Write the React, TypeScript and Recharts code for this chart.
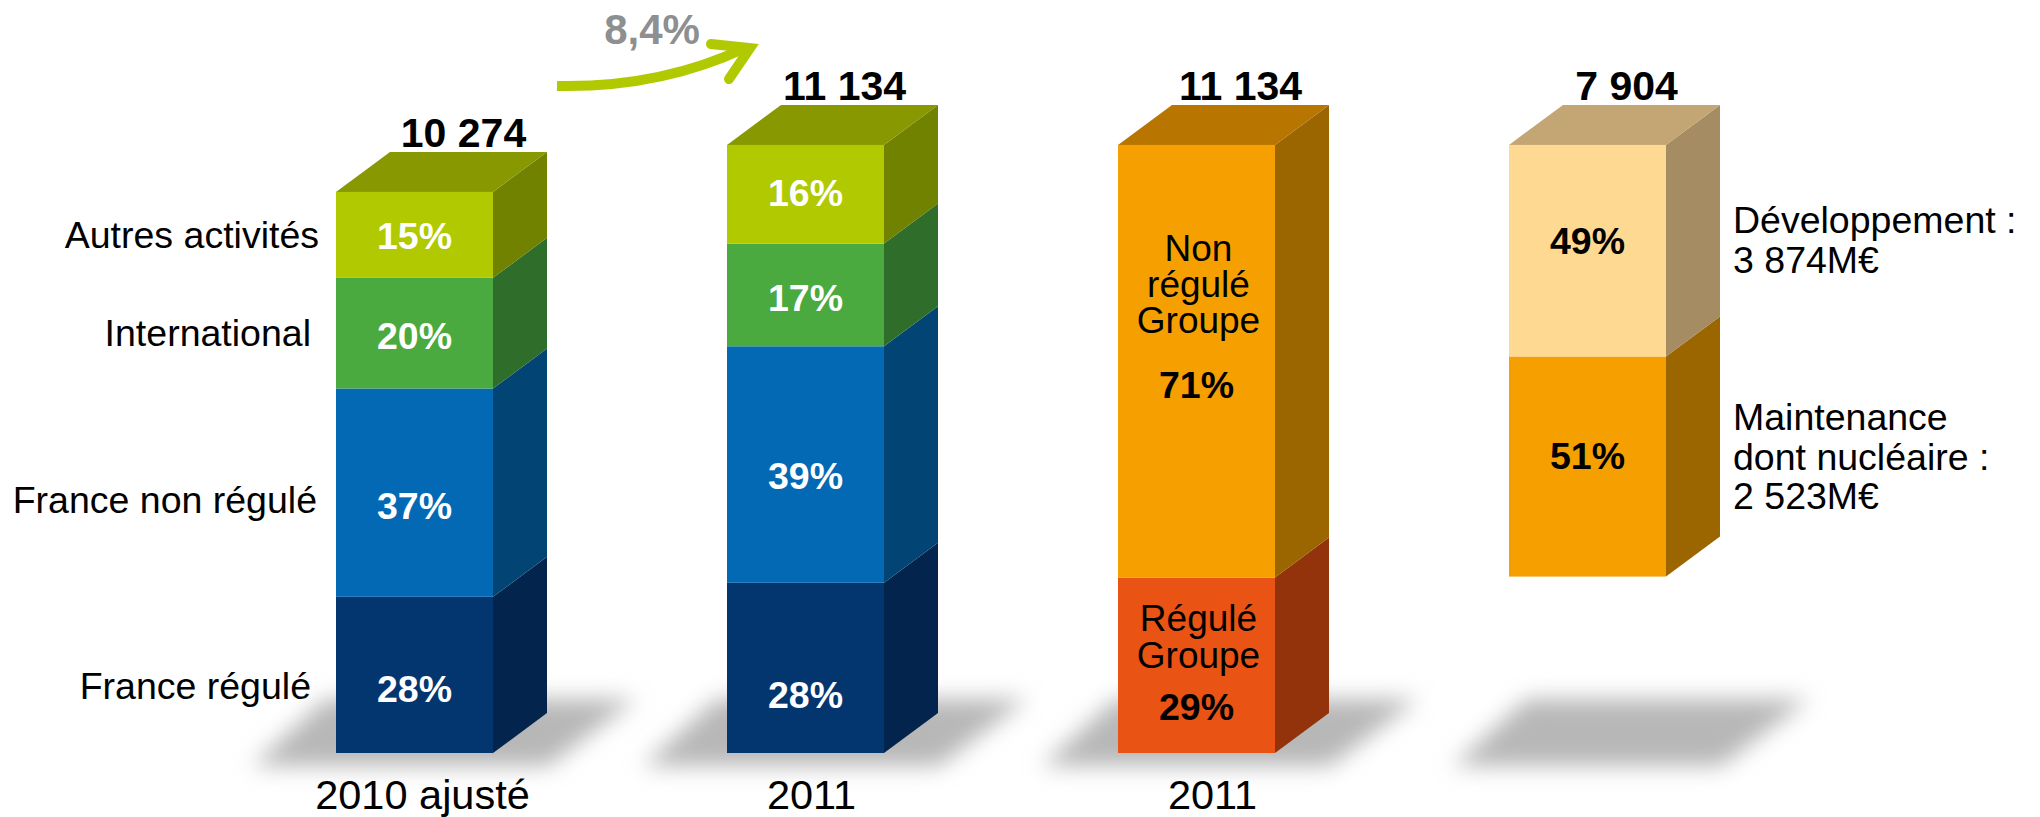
import React from "react";
import { Bar, BarChart, LabelList, XAxis, YAxis } from "recharts";

const categories = ["2010 ajusté", "2011", "2011", ""];
const totals = ["10 274", "11 134", "11 134", "7 904"];

// values in M€, null where the series does not exist in that column
const base = [0, 0, 0, 3230];
const franceRegule = [2860, 3117, null, null];
const franceNonRegule = [3814, 4330, null, null];
const international = [2026, 1880, null, null];
const autresActivites = [1574, 1807, null, null];
const reguleGroupe = [null, null, 3212, null];
const nonReguleGroupe = [null, null, 7922, null];
const maintenance = [null, null, null, 4030];
const developpement = [null, null, null, 3874];

const pctFranceRegule = ["28%", "28%", null, null];
const pctFranceNonRegule = ["37%", "39%", null, null];
const pctInternational = ["20%", "17%", null, null];
const pctAutres = ["15%", "16%", null, null];
const pctRegule = [null, null, "29%", null];
const pctNonRegule = [null, null, "71%", null];
const pctMaintenance = [null, null, null, "51%"];
const pctDeveloppement = [null, null, null, "49%"];

const data = categories.map((category, i) => ({
  category,
  base: base[i],
  franceRegule: franceRegule[i],
  franceNonRegule: franceNonRegule[i],
  international: international[i],
  autresActivites: autresActivites[i],
  reguleGroupe: reguleGroupe[i],
  nonReguleGroupe: nonReguleGroupe[i],
  maintenance: maintenance[i],
  developpement: developpement[i],
}));

const FONT = "'Liberation Sans', Arial, sans-serif";
const DX = 54;
const DY = 40;

const tickNudge = [8, 6, 16, 0];
const totalNudge = [49, 39, 44, 39];
const shadowLeft = [-84, -84, -76, -56];

type BoxStyle = { front: string; side: string; top?: string };

function box({ front, side, top }: BoxStyle) {
  return (p: any) => {
    const { x, y, width, height } = p;
    if (!height || height <= 0) return <g />;
    const r = x + width;
    return (
      <g>
        <polygon fill={side} points={`${r},${y} ${r + DX},${y - DY} ${r + DX},${y + height - DY} ${r},${y + height}`} />
        {top && <polygon fill={top} points={`${x},${y} ${x + DX},${y - DY} ${r + DX},${y - DY} ${r},${y}`} />}
        <rect x={x} y={y} width={width} height={height} fill={front} />
      </g>
    );
  };
}

function shadow(p: any) {
  const left = p.x;
  const floor = p.y + p.height;
  const pts = [
    [left + shadowLeft[p.index], floor + 13],
    [left + 212, floor + 13],
    [left + 300, floor - 54],
    [left + shadowLeft[p.index] + 74, floor - 54],
  ];
  return <polygon fill="#b7b7b7" filter="url(#groundBlur)" points={pts.map((q) => q.join(",")).join(" ")} />;
}

// label in the front face: optional names above the percentage
function segLabel(pcts: (string | null)[], color: string, shifts: number[], names?: string[], nameGap = 36, pctGap = 65) {
  return (props: any) => {
    const vb = props.viewBox ?? props;
    const i = props.index;
    const pct = pcts[i];
    if (!pct) return null;
    const cx = vb.x + vb.width / 2;
    const cy = vb.y + vb.height / 2 + shifts[i];
    const lines = names ?? [];
    return (
      <g fontFamily={FONT} textAnchor="middle">
        {lines.map((n, k) => (
          <text key={n} x={cx + 2} y={cy - pctGap - (lines.length - 1 - k) * nameGap} dy="0.35em" fontSize={37} fill="#000">
            {n}
          </text>
        ))}
        <text x={cx} y={cy} dy="0.35em" fontSize={37.5} fontWeight="bold" fill={color}>
          {pct}
        </text>
      </g>
    );
  };
}

function totalLabel(props: any) {
  const vb = props.viewBox ?? props;
  const i = props.index;
  if (!vb.height) return null;
  return (
    <text x={vb.x + vb.width / 2 + totalNudge[i]} y={vb.y - DY - 5} textAnchor="middle" fontFamily={FONT} fontSize={41} fontWeight="bold" fill="#000">
      {totals[i]}
    </text>
  );
}

function yearTick(p: any) {
  return (
    <text x={p.x + tickNudge[p.index]} y={809} textAnchor="middle" fontFamily={FONT} fontSize={41.5} fill="#000">
      {p.payload.value}
    </text>
  );
}

export default function App() {
  const side = { fontFamily: FONT, fontSize: 37.5, fill: "#000" };
  return (
    <div style={{ position: "absolute", left: 0, top: 0, width: 2040, height: 817, overflow: "hidden", background: "#fff" }}>
      <BarChart width={2040} height={817} data={data} margin={{ top: 43, right: 257, bottom: 63, left: 219 }} barSize={157}>
        <defs>
          <filter id="groundBlur" x="-30%" y="-50%" width="160%" height="200%">
            <feGaussianBlur stdDeviation="11" />
          </filter>
        </defs>
        <XAxis dataKey="category" height={1} interval={0} axisLine={false} tickLine={false} tick={yearTick} />
        <YAxis hide domain={[0, 13000]} />

        <Bar dataKey="base" stackId="a" isAnimationActive={false} shape={shadow} />
        <Bar dataKey="franceRegule" stackId="a" isAnimationActive={false} shape={box({ front: "#03366f", side: "#03254d" })}>
          <LabelList content={segLabel(pctFranceRegule, "#fff", [14, 27, 0, 0])} />
        </Bar>
        <Bar dataKey="franceNonRegule" stackId="a" isAnimationActive={false} shape={box({ front: "#0369b5", side: "#024575" })}>
          <LabelList content={segLabel(pctFranceNonRegule, "#fff", [13, 11, 0, 0])} />
        </Bar>
        <Bar dataKey="international" stackId="a" isAnimationActive={false} shape={box({ front: "#4aaa3f", side: "#2f6d2b" })}>
          <LabelList content={segLabel(pctInternational, "#fff", [3, 3, 0, 0])} />
        </Bar>
        <Bar dataKey="autresActivites" stackId="a" isAnimationActive={false} shape={box({ front: "#b1c900", side: "#718100", top: "#879800" })}>
          <LabelList content={segLabel(pctAutres, "#fff", [1, -1, 0, 0])} />
          <LabelList content={totalLabel} />
        </Bar>
        <Bar dataKey="reguleGroupe" stackId="a" isAnimationActive={false} shape={box({ front: "#e95314", side: "#93330c" })}>
          <LabelList content={segLabel(pctRegule, "#000", [0, 0, 42, 0], ["Régulé", "Groupe"], 37, 52)} />
        </Bar>
        <Bar dataKey="nonReguleGroupe" stackId="a" isAnimationActive={false} shape={box({ front: "#f59f00", side: "#9b6500", top: "#b87600" })}>
          <LabelList content={segLabel(pctNonRegule, "#000", [0, 0, 24, 0], ["Non", "régulé", "Groupe"], 36, 65)} />
          <LabelList content={totalLabel} />
        </Bar>
        <Bar dataKey="maintenance" stackId="a" isAnimationActive={false} shape={box({ front: "#f59f00", side: "#9b6500" })}>
          <LabelList content={segLabel(pctMaintenance, "#000", [0, 0, 0, -11])} />
        </Bar>
        <Bar dataKey="developpement" stackId="a" isAnimationActive={false} shape={box({ front: "#fed992", side: "#a58c62", top: "#c3a673" })}>
          <LabelList content={segLabel(pctDeveloppement, "#000", [0, 0, 0, -10])} />
          <LabelList content={totalLabel} />
        </Bar>

        <text x={319} y={248} textAnchor="end" {...side}>Autres activités</text>
        <text x={311} y={346} textAnchor="end" {...side}>International</text>
        <text x={317} y={513} textAnchor="end" {...side}>France non régulé</text>
        <text x={311} y={699} textAnchor="end" {...side}>France régulé</text>

        <text x={1733} y={233} {...side}>Développement :</text>
        <text x={1733} y={273} {...side}>3 874M€</text>
        <text x={1733} y={430} {...side}>Maintenance</text>
        <text x={1733} y={470} {...side}>dont nucléaire :</text>
        <text x={1733} y={509} {...side}>2 523M€</text>

        <text x={652} y={44} textAnchor="middle" fontFamily={FONT} fontSize={42} fontWeight="bold" fill="#8d8f91">8,4%</text>
        <path d="M557,86 Q660,88 745,48" fill="none" stroke="#b1c900" strokeWidth={10} />
        <polyline points="711,44 750,48 729,79" fill="none" stroke="#b1c900" strokeWidth={10} strokeLinecap="round" strokeMiterlimit={6} />
      </BarChart>
    </div>
  );
}
